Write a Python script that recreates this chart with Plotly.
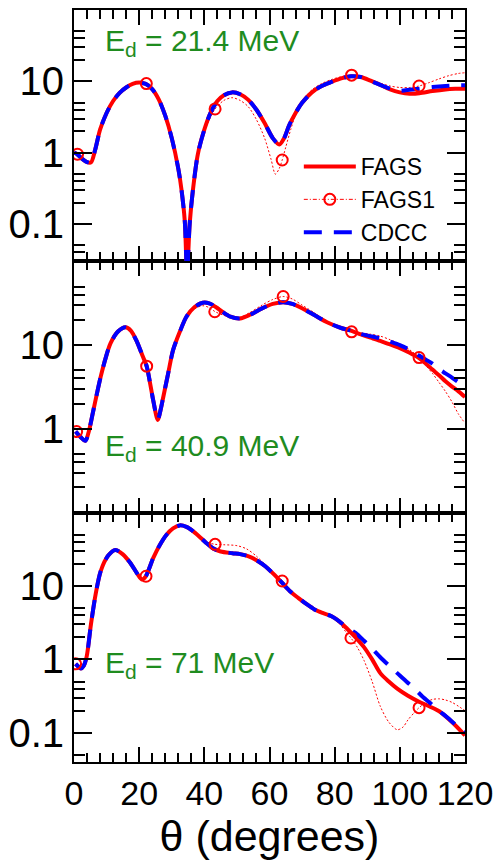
import plotly.graph_objects as go

# ---------------- data ----------------
# Panel A : E_d = 21.4 MeV
a_fags_th = [0, 1, 2.5, 4, 5.2, 6.5, 8, 10, 12, 14, 16, 18, 20, 22, 24, 26, 28, 30, 32, 33, 34, 34.7, 35.5,
             36.5, 38, 40, 42, 44, 46, 48.5, 51, 53.5, 56, 58.5, 61, 63, 64.5, 66, 68, 70, 73, 76, 79, 82,
             85, 88, 91, 94, 97, 100, 103, 106, 110, 114, 117, 120]
a_fags_y = [1.0, 0.95, 0.82, 0.74, 0.73, 1.1, 2.1, 3.6, 5.3, 6.9, 8.2, 9.2, 9.6, 9.2, 7.8, 5.6, 3.3, 1.6, 0.6,
            0.3, 0.11, 0.02, 0.1, 0.3, 0.95, 2.1, 3.7, 5.3, 6.4, 7.0, 6.6, 5.5, 4.0, 2.6, 1.6, 1.3, 1.6, 2.4,
            3.6, 5.0, 7.0, 8.6, 9.8, 11.0, 11.8, 11.5, 10.2, 8.9, 7.7, 7.0, 6.7, 6.8, 7.3, 7.7, 7.85, 7.9]
a_cdcc_th = a_fags_th
a_cdcc_y = [1.0, 0.95, 0.82, 0.74, 0.73, 1.1, 2.1, 3.6, 5.3, 6.9, 8.2, 9.2, 9.6, 9.2, 7.8, 5.6, 3.3, 1.6, 0.6,
            0.3, 0.11, 0.02, 0.1, 0.3, 0.95, 2.1, 3.7, 5.3, 6.4, 7.0, 6.6, 5.5, 4.0, 2.6, 1.6, 1.3, 1.6, 2.4,
            3.6, 5.0, 7.0, 8.6, 9.8, 11.0, 11.8, 11.5, 10.2, 8.9, 7.9, 7.4, 7.6, 7.9, 8.3, 8.6, 8.75, 8.8]
a_fags1_th = [0, 1.1, 2.5, 4, 5.2, 6.5, 8, 10, 12, 14, 16, 18, 20, 22.2, 24, 26, 28, 30, 32, 33, 34, 34.9,
              35.6, 36.5, 38, 40, 43.3, 46, 48.5, 51, 53.5, 56, 58.5, 60.5, 61.8, 63, 63.9, 65, 66.5, 68,
              70, 73, 76, 79, 82, 85.2, 88, 91, 94, 97, 100, 103, 105.9, 109, 112, 115, 118, 120]
a_fags1_y = [1.0, 0.95, 0.82, 0.74, 0.73, 1.1, 2.1, 3.6, 5.3, 6.9, 8.2, 9.2, 9.6, 9.3, 7.8, 5.6, 3.3, 1.6,
             0.6, 0.3, 0.12, 0.07, 0.12, 0.3, 0.95, 2.0, 4.1, 5.4, 5.9, 5.4, 4.4, 2.9, 1.6, 0.8, 0.5, 0.6,
             0.79, 1.2, 2.1, 3.4, 5.2, 7.6, 9.3, 10.6, 11.6, 12.2, 11.8, 10.6, 9.4, 8.6, 8.2, 8.2, 8.6,
             9.6, 10.8, 12.0, 12.9, 13.2]
a_mark_th = [1.1, 22.2, 43.3, 63.9, 85.2, 105.9]
a_mark_y = [0.95, 9.3, 4.1, 0.79, 12.2, 8.6]

# Panel B : E_d = 40.9 MeV
b_fags_th = [0.5, 2, 3.5, 4.6, 5.7, 7, 8.2, 9.7, 11.2, 13.5, 15.8, 17.5, 19.3, 21, 22.3, 23.3, 24.3, 25.7,
             26.6, 27.4, 28.9, 30.4, 32.5, 34.5, 37, 39.5, 41.5, 43.2, 45.5, 48, 51, 54, 57.7, 61, 64.2,
             67, 70, 74, 78, 82, 85.2, 88, 91, 94, 97, 100, 103, 105.9, 108, 110, 112.2, 114, 116, 118, 120]
b_fags_y = [0.93, 0.8, 0.72, 0.95, 1.5, 2.6, 4.2, 7.0, 10.5, 14.5, 16.3, 14.8, 11.0, 7.5, 5.6, 3.6, 2.2, 1.28,
            1.7, 2.4, 4.6, 8.7, 14.5, 21.8, 28.5, 32, 31.5, 29, 25, 21.8, 20.8, 23, 27.4, 31, 32.5, 31, 27.5,
            22.5, 18.5, 16, 14.8, 13.4, 12.3, 11.2, 10.2, 9.2, 8.1, 7.0, 6.0, 5.1, 4.3, 3.7, 3.2, 2.8, 2.4]
b_cdcc_th = b_fags_th
b_cdcc_y = [0.93, 0.8, 0.72, 0.95, 1.5, 2.6, 4.2, 7.0, 10.5, 14.5, 16.3, 14.8, 11.0, 7.5, 5.6, 3.6, 2.2, 1.28,
            1.7, 2.4, 4.6, 8.7, 14.5, 21.8, 28.5, 32, 31.5, 29, 25, 21.8, 20.8, 23, 27.4, 31, 32.5, 31, 27.5,
            22.5, 18.5, 16, 14.8, 13.6, 12.8, 12.0, 11.0, 10.0, 8.8, 7.5, 6.7, 6.0, 5.1, 4.6, 4.1, 3.6, 3.3]
b_fags1_th = [0.8, 2, 3.5, 4.6, 5.7, 7, 8.2, 9.7, 11.2, 13.5, 15.8, 17.5, 19.3, 21, 22.3, 23.3, 24.3, 25.7,
              26.6, 27.4, 28.9, 30.4, 32.5, 34.5, 37, 39.5, 41.5, 43.2, 45.5, 48, 51, 54, 57.7, 61, 64.2,
              67, 70, 74, 78, 82, 85.2, 88, 91, 94, 97, 100, 103, 105.9, 108, 110, 112, 114, 116, 118, 120]
b_fags1_y = [0.93, 0.8, 0.72, 0.95, 1.5, 2.6, 4.2, 7.0, 10.5, 14.5, 16.3, 14.8, 11.0, 7.5, 5.6, 3.6, 2.2,
             1.28, 1.7, 2.4, 4.6, 8.7, 14.5, 21.5, 27, 29.5, 28, 25.2, 23, 21.5, 21.5, 24.5, 30, 35, 38,
             35.5, 30, 24, 19, 16, 14.4, 14, 13.5, 12.8, 11.6, 10.3, 8.8, 7.1, 5.7, 4.6, 3.6, 2.8, 2.1,
             1.5, 1.17]
b_mark_th = [0.8, 22.3, 43.2, 64.2, 85.2, 105.9]
b_mark_y = [0.93, 5.6, 25, 38, 14.4, 7.1]

# Panel C : E_d = 71 MeV
c_fags_th = [0.5, 1.3, 2.1, 3, 3.9, 5.2, 6.7, 8.2, 10.5, 12.7, 15, 17.3, 19.5, 20.8, 22, 24.3, 26.3, 28.4,
             30.4, 32.4, 34.5, 36.5, 38.5, 40.5, 42.5, 45, 48.6, 51, 53.6, 56, 58.7, 61.3, 63.9, 66.3, 68.8,
             71.3, 73.8, 76.3, 78.9, 81.4, 83.9, 86.4, 89, 91.5, 94, 96.6, 99.2, 102.5, 105.9, 109, 112.2,
             116, 120]
c_fags_y = [0.87, 0.8, 0.75, 0.82, 1.1, 3.0, 8.0, 16, 26, 31, 27, 20.6, 14.5, 12.3, 13.5, 24, 36, 50, 61, 67,
            64, 56, 47, 39, 33, 29.5, 28, 27.2, 25.4, 22.5, 18.6, 14.5, 11.0, 8.5, 6.9, 5.7, 4.8, 4.3, 3.9,
            3.3, 2.6, 2.0, 1.47, 1.0, 0.65, 0.5, 0.40, 0.32, 0.265, 0.23, 0.195, 0.14, 0.092]
c_cdcc_th = [0.5, 1.3, 2.1, 3, 3.9, 5.2, 6.7, 8.2, 10.5, 12.7, 15, 17.3, 19.5, 20.8, 22, 24.3, 26.3, 28.4,
             30.4, 32.4, 34.5, 36.5, 38.5, 40.5, 42.5, 45, 48.6, 51, 53.6, 56, 58.7, 61.3, 63.9, 66.3, 68.8,
             71.3, 73.8, 76.3, 78.9, 81.4, 83.9, 86.4, 89, 91.5, 94, 96.6, 99.2, 102, 104.5, 107, 109.5,
             112, 114.5, 117, 120]
c_cdcc_y = [0.87, 0.8, 0.75, 0.82, 1.1, 3.0, 8.0, 16, 26, 31, 27, 20.6, 14.5, 12.3, 13.5, 24, 36, 50, 61, 67,
            64, 56, 47, 39, 33, 29.5, 28, 27.2, 25.4, 22.5, 18.6, 14.5, 11.0, 8.5, 6.9, 5.7, 4.8, 4.3, 3.9,
            3.3, 2.7, 2.3, 1.8, 1.4, 1.07, 0.83, 0.65, 0.5, 0.4, 0.31, 0.25, 0.2, 0.163, 0.13, 0.1]
c_fags1_th = [0.5, 1.3, 2.1, 3, 3.9, 5.2, 6.7, 8.2, 10.5, 12.7, 15, 17.3, 19.5, 20.8, 22.1, 24.3, 26.3, 28.4,
              30.4, 32.4, 34.5, 36.5, 38.5, 40.5, 43.3, 46, 50, 53, 56, 58.7, 61.3, 63.9, 66.3, 68.8, 71.3,
              73.8, 76.3, 78.9, 81.4, 83.5, 85, 87, 89, 91.5, 94, 96.6, 99.2, 101, 102.5, 104.5, 105.9, 108,
              110, 112.2, 114, 116, 118, 120]
c_fags1_y = [0.87, 0.8, 0.75, 0.82, 1.1, 3.0, 8.0, 16, 26, 31, 27, 20.6, 14.5, 12.3, 13.6, 24, 36, 50, 61,
             67, 64, 56, 47, 40, 37, 36.5, 35.5, 32, 25.5, 19.5, 15, 11.7, 8.6, 6.9, 5.7, 4.8, 4.3, 3.8, 3.1,
             2.35, 1.96, 1.45, 0.97, 0.5, 0.23, 0.14, 0.11, 0.12, 0.15, 0.19, 0.22, 0.26, 0.285, 0.29,
             0.28, 0.26, 0.23, 0.2]
c_mark_th = [0.5, 22.1, 43.3, 63.9, 85, 105.9]
c_mark_y = [0.87, 13.6, 37, 11.7, 1.96, 0.22]

energy_labels = ["E<sub>d</sub> = 21.4 MeV", "E<sub>d</sub> = 40.9 MeV", "E<sub>d</sub> = 71 MeV"]
x_ticks = [0, 20, 40, 60, 80, 100, 120]
series_names = ["FAGS", "FAGS1", "CDCC"]

# ---------------- style ----------------
RED = "#ff0000"
BLUE = "#0000ff"
GREEN = "#1f8c1f"
FONT = "Liberation Sans, Arial, Helvetica, sans-serif"

panels = [
    dict(ax="3", fags=(a_fags_th, a_fags_y), fags1=(a_fags1_th, a_fags1_y), cdcc=(a_cdcc_th, a_cdcc_y),
         mark=(a_mark_th, a_mark_y), rng=[-1.5229, 2.0], tv=[0.1, 1, 10], lab=energy_labels[0], ly=0.87,
         dom=[0.6658, 1.0]),
    dict(ax="2", fags=(b_fags_th, b_fags_y), fags1=(b_fags1_th, b_fags1_y), cdcc=(b_cdcc_th, b_cdcc_y),
         mark=(b_mark_th, b_mark_y), rng=[-1.0, 2.0], tv=[1, 10], lab=energy_labels[1], ly=0.26,
         dom=[0.3316, 0.6658]),
    dict(ax="", fags=(c_fags_th, c_fags_y), fags1=(c_fags1_th, c_fags1_y), cdcc=(c_cdcc_th, c_cdcc_y),
         mark=(c_mark_th, c_mark_y), rng=[-1.3979, 2.0], tv=[0.1, 1, 10], lab=energy_labels[2], ly=0.39,
         dom=[0.0, 0.3316]),
]

fig = go.Figure()
for i, p in enumerate(panels):
    xa = "x" + p["ax"]
    ya = "y" + p["ax"]
    first = (i == 0)
    fig.add_trace(go.Scatter(x=p["fags1"][0], y=p["fags1"][1], mode="lines", xaxis=xa, yaxis=ya,
                             line=dict(color=RED, width=1, dash="2px,2px", shape="spline", smoothing=0.8),
                             showlegend=False, hoverinfo="skip"))
    fig.add_trace(go.Scatter(x=p["fags"][0], y=p["fags"][1], mode="lines", xaxis=xa, yaxis=ya,
                             name=series_names[0], legendrank=1, showlegend=first,
                             line=dict(color=RED, width=4, shape="spline", smoothing=0.8)))
    fig.add_trace(go.Scatter(x=p["cdcc"][0], y=p["cdcc"][1], mode="lines", xaxis=xa, yaxis=ya,
                             name=series_names[2], legendrank=3, showlegend=first,
                             line=dict(color=BLUE, width=4, dash="18px,12px", shape="spline", smoothing=0.8)))
    fig.add_trace(go.Scatter(x=p["mark"][0], y=p["mark"][1], mode="markers", xaxis=xa, yaxis=ya,
                             showlegend=False,
                             marker=dict(symbol="circle-open", size=11, color=RED, line=dict(width=2, color=RED))))
    if first:
        fig.add_trace(go.Scatter(x=[None], y=[None], mode="lines+markers", xaxis=xa, yaxis=ya,
                                 name=series_names[1], legendrank=2,
                                 line=dict(color=RED, width=1, dash="4px,2px,1px,2px"),
                                 marker=dict(symbol="circle-open", size=11, color=RED,
                                             line=dict(width=2, color=RED))))

axis_common = dict(showline=True, linewidth=2, linecolor="black", mirror="ticks", ticks="inside",
                   tickwidth=2, tickcolor="black", showgrid=False, zeroline=False)

minor_vals = []
for dec in [0.01, 0.1, 1, 10]:
    for m in [2, 3, 4, 5]:
        minor_vals.append(m * dec)

layout = dict(
    width=501, height=861,
    margin=dict(l=73, r=32, t=8, b=99),
    paper_bgcolor="white", plot_bgcolor="white",
    font=dict(family=FONT, color="black"),
    showlegend=True,
    legend=dict(x=0.575, y=0.748, xanchor="left", yanchor="middle", bgcolor="rgba(0,0,0,0)",
                font=dict(size=23, family=FONT), tracegroupgap=0, itemwidth=52),
)

for p in panels:
    ax = p["ax"]
    xkey = "xaxis" + ax
    ykey = "yaxis" + ax
    xdict = dict(axis_common, range=[0, 120], tickvals=x_ticks, ticklen=15, anchor="y" + ax,
                 minor=dict(dtick=4, tick0=0, ticklen=9, tickwidth=2, ticks="inside", tickcolor="black"))
    if ax == "":
        xdict.update(showticklabels=True, tickfont=dict(size=34, family=FONT),
                     title=dict(text="θ (degrees)", font=dict(size=43, family=FONT), standoff=6))
    else:
        xdict.update(showticklabels=False, matches="x")
    layout[xkey] = xdict
    layout[ykey] = dict(axis_common, type="log", range=p["rng"], domain=p["dom"], anchor="x" + ax,
                        tickvals=p["tv"], ticktext=[("%g" % v) for v in p["tv"]], ticklen=18,
                        tickfont=dict(size=40, family=FONT),
                        minor=dict(tickmode="array", tickvals=minor_vals, ticklen=11, tickwidth=2,
                                   ticks="inside", tickcolor="black"))

fig.update_layout(**layout)

for p in panels:
    ax = p["ax"]
    fig.add_annotation(text=p["lab"], xref="x%s domain" % ax if ax else "x domain",
                       yref="y%s domain" % ax if ax else "y domain",
                       x=0.075, y=p["ly"], xanchor="left", yanchor="middle", showarrow=False,
                       font=dict(size=30, color=GREEN, family=FONT))

fig.write_html("out.html")
